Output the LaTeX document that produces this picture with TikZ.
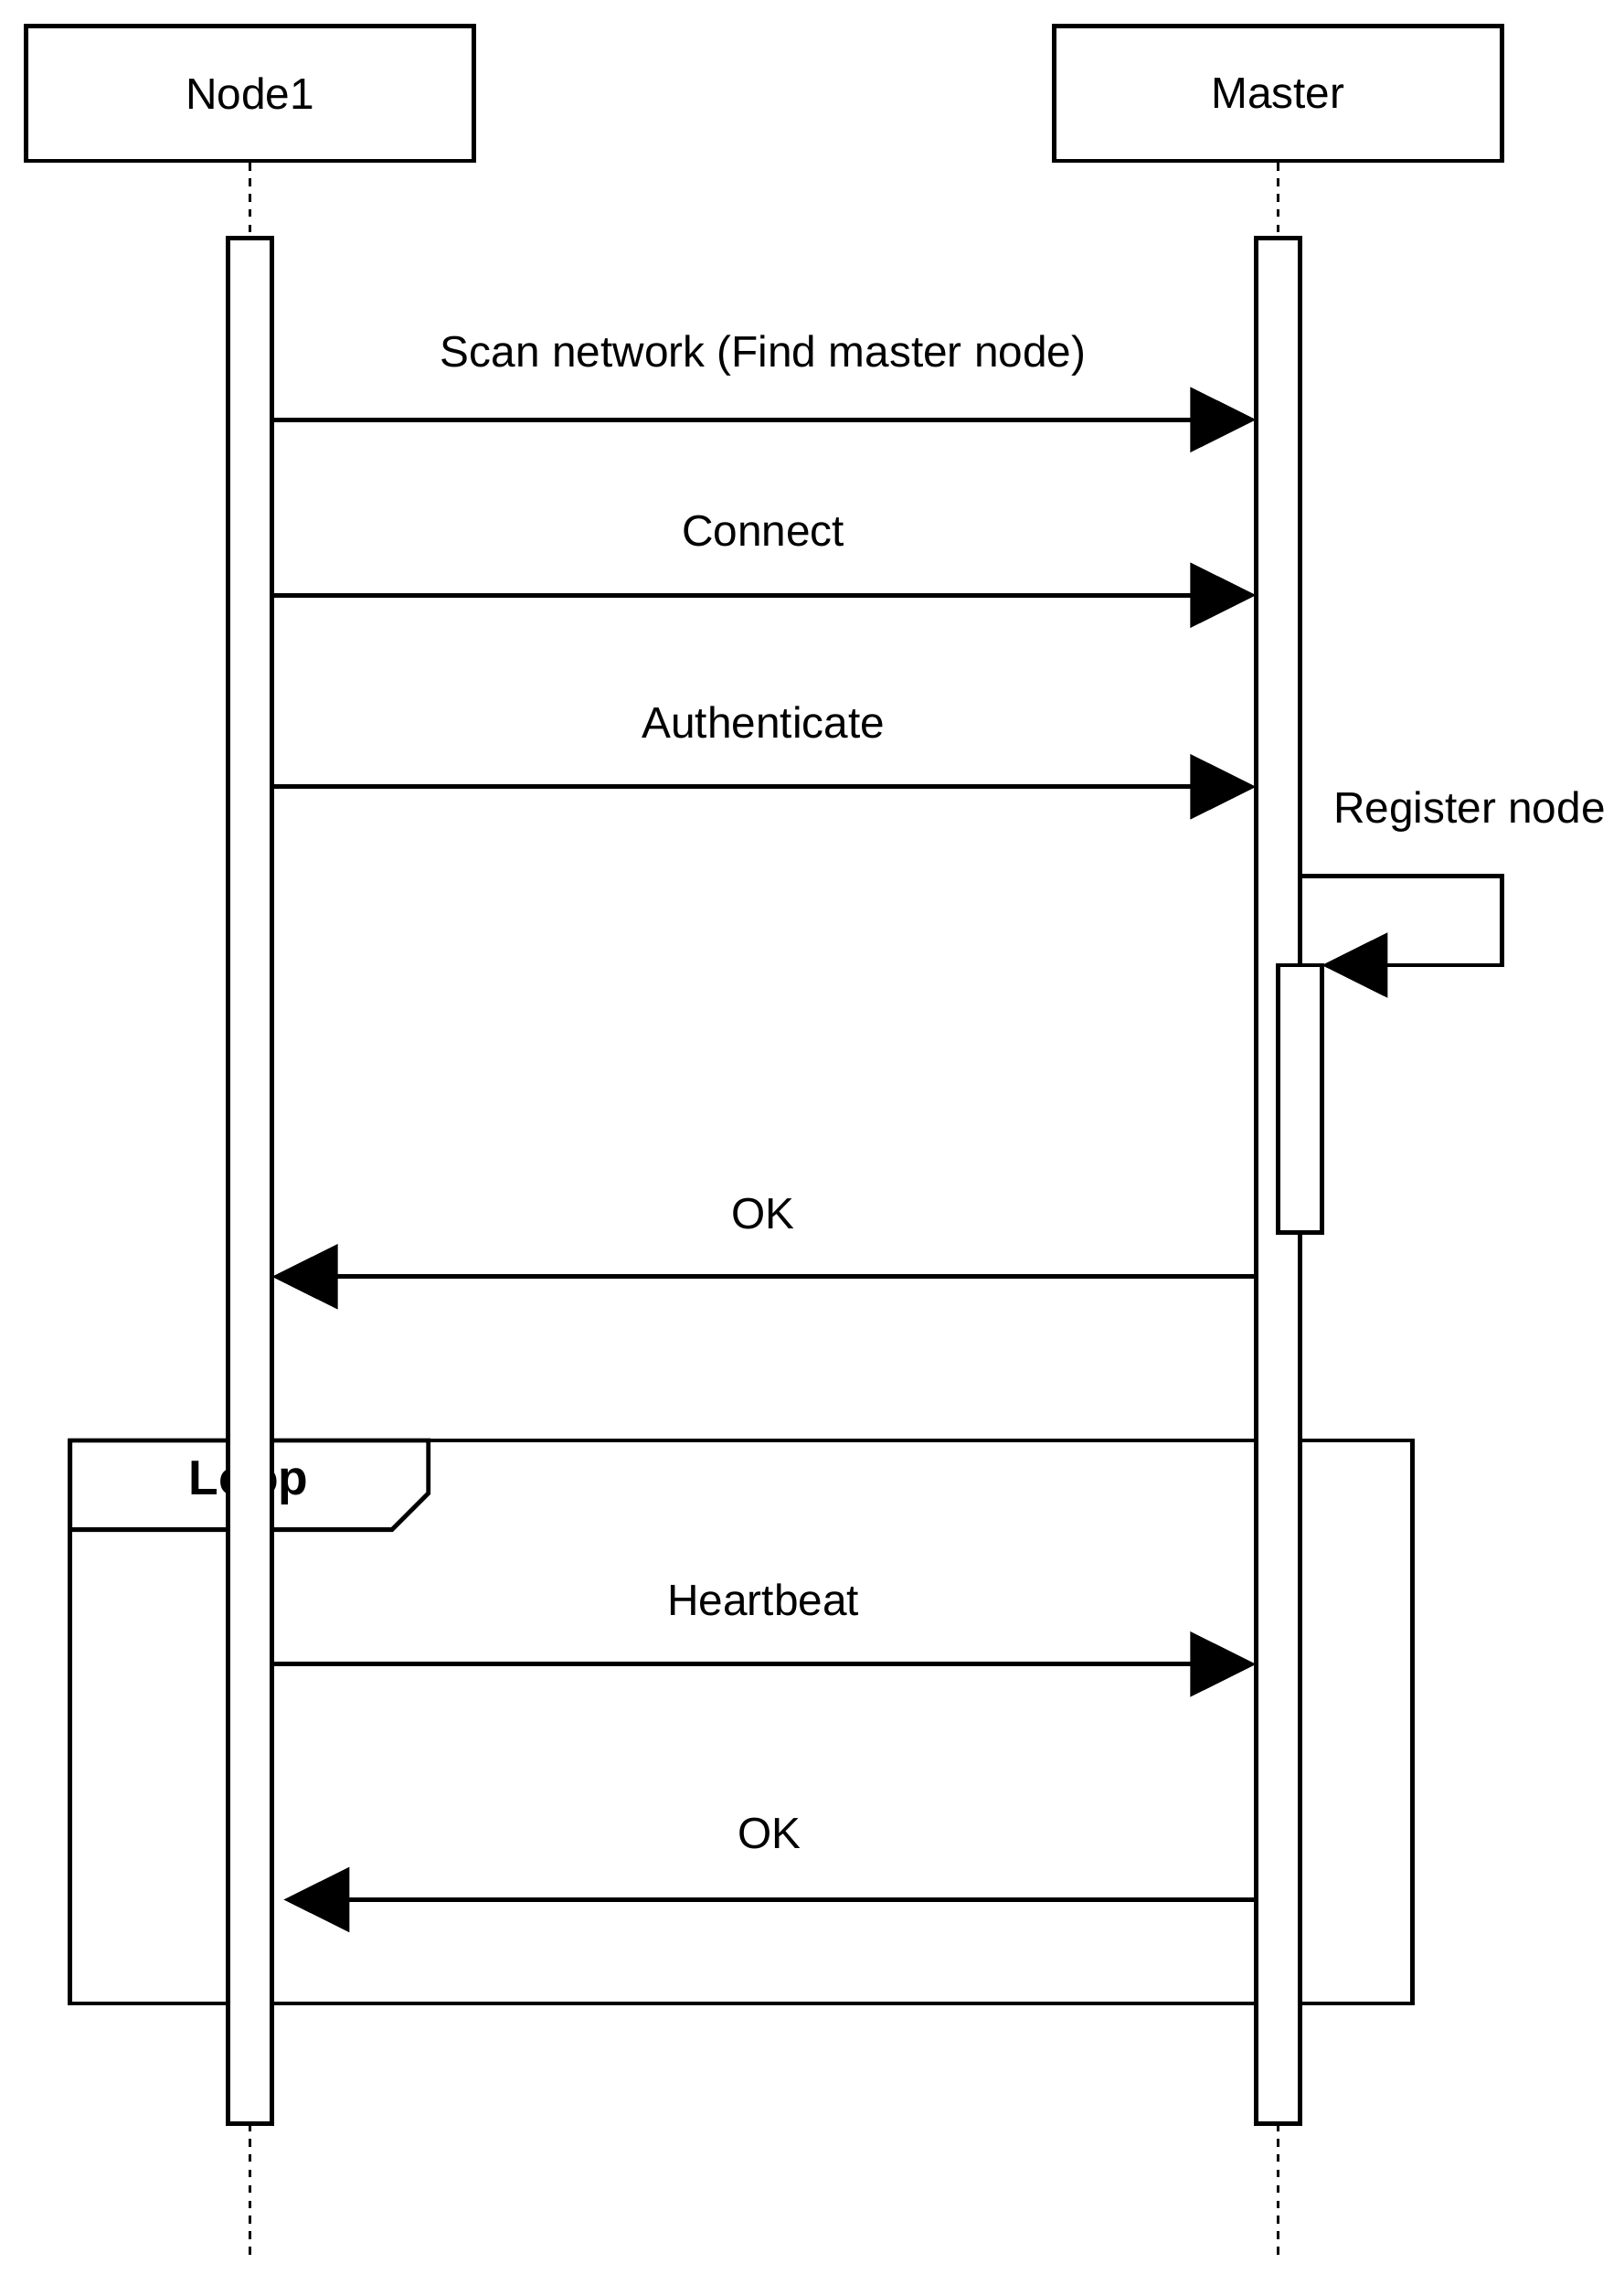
\documentclass[tikz,border=0pt]{standalone}
\usepackage{fontspec}
\setmainfont{Liberation Sans}
\usetikzlibrary{arrows.meta,positioning}
\tikzset{
  lifebox/.style={draw,line width=1.7pt,minimum width=6.12cm,minimum height=1.84cm,font=\fontsize{17}{20}\selectfont},
  actbar/.style={draw,line width=1.7pt,fill=white},
  msg/.style={line width=1.7pt,-{Triangle[length=0.9cm,width=0.88cm]}},
  msglabel/.style={font=\fontsize{17}{20}\selectfont},
  lifeline/.style={line width=1.2pt,dashed}
}
\begin{document}
\begin{tikzpicture}[x=0.02cm,y=-0.02cm]
  \useasboundingbox (0,0) rectangle (1110,1555);

  % heads
  \node[lifebox] (node1) at (171,64) {Node1};
  \node[lifebox] (master) at (874,64) {Master};

  % lifelines
  \coordinate (n1top) at (171,163);
  \coordinate (mtop) at (874,163);
  \coordinate (n1end) at (171,1545);
  \coordinate (mend) at (874,1545);
  \draw[lifeline] (node1.south) -- (n1top);
  \draw[lifeline] (master.south) -- (mtop);
  \draw[lifeline] (171,1452) -- (n1end);
  \draw[lifeline] (874,1452) -- (mend);

  % loop frame
  \draw[line width=1.7pt] (48,985) rectangle (966,1370);
  \draw[line width=1.7pt,fill=white] (48,985) -- (48,1046) -- (268,1046) -- (293,1021) -- (293,985) -- cycle;
  \node[font=\fontsize{19}{22}\selectfont\bfseries] (loop) at (170,1014) {Loop};

  % activation bars
  \draw[actbar] (156,163) rectangle (186,1452);
  \draw[actbar] (859,163) rectangle (889,1452);
  \draw[actbar] (874,660) rectangle (904,843);

  % messages
  \coordinate (s1) at (186,287);  \coordinate (e1) at (859,287);
  \coordinate (s2) at (186,407);  \coordinate (e2) at (859,407);
  \coordinate (s3) at (186,538);  \coordinate (e3) at (859,538);
  \coordinate (s4) at (859,873);  \coordinate (e4) at (186,873);
  \coordinate (s5) at (186,1138); \coordinate (e5) at (859,1138);
  \coordinate (s6) at (859,1299); \coordinate (e6) at (194,1299);
  \coordinate (r1) at (889,599);  \coordinate (r2) at (904,660);

  \draw[msg] (s1) -- (e1);
  \node[msglabel] (l1) at (522,243) {Scan network (Find master node)};
  \draw[msg] (s2) -- (e2);
  \node[msglabel] (l2) at (522,363) {Connect};
  \draw[msg] (s3) -- (e3);
  \node[msglabel] (l3) at (522,494) {Authenticate};
  \draw[msg] (r1) -- (1027,599) -- (1027,660) -- (r2);
  \node[msglabel] (l4) at (1005,555) {Register node};
  \draw[msg] (s4) -- (e4);
  \node[msglabel] (l5) at (522,830) {OK};
  \draw[msg] (s5) -- (e5);
  \node[msglabel] (l6) at (522,1094) {Heartbeat};
  \draw[msg] (s6) -- (e6);
  \node[msglabel] (l7) at (526,1254) {OK};
\end{tikzpicture}
\end{document}
